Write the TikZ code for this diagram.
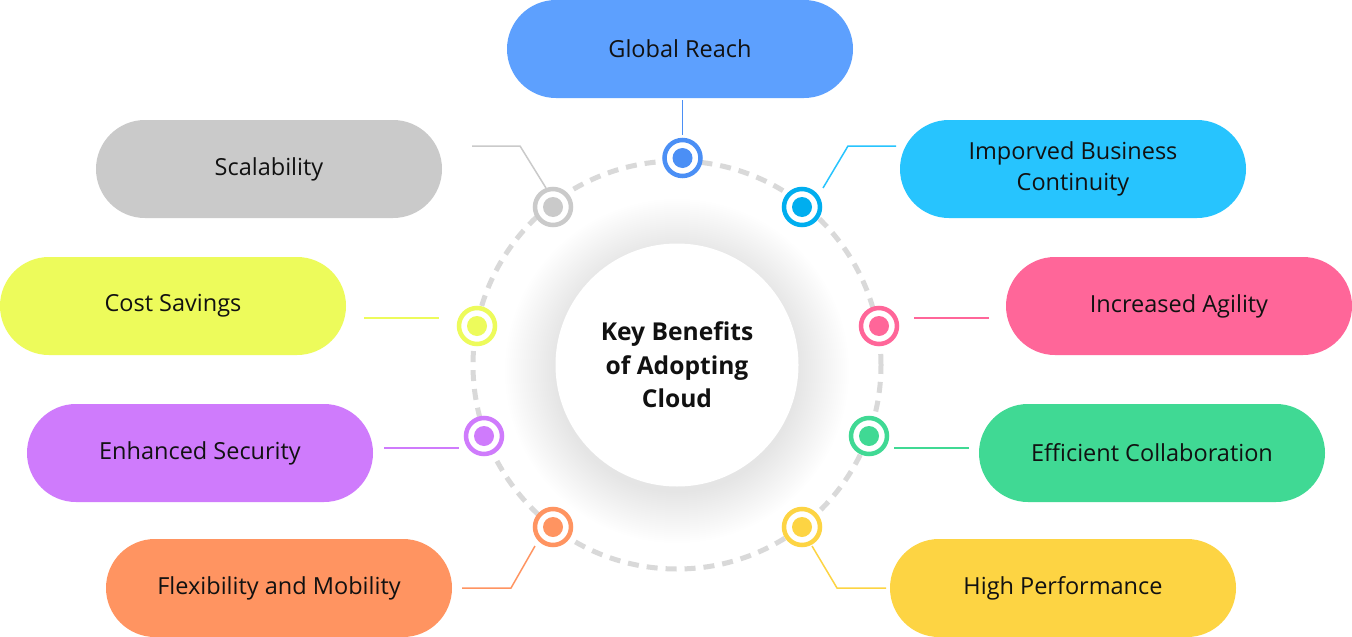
\documentclass[tikz,border=0pt]{standalone}
\usepackage{fontspec}
\setmainfont{Open Sans}
\usetikzlibrary{calc}
\definecolor{cGlobal}{HTML}{5DA0FE}
\definecolor{cGlobalM}{HTML}{4B8FF5}
\definecolor{cCont}{HTML}{27C4FE}
\definecolor{cContM}{HTML}{00AEEF}
\definecolor{cScal}{HTML}{CACACA}
\definecolor{cCost}{HTML}{EDFB5B}
\definecolor{cAgil}{HTML}{FF6699}
\definecolor{cSec}{HTML}{CF7BFC}
\definecolor{cColl}{HTML}{40D994}
\definecolor{cFlex}{HTML}{FF9461}
\definecolor{cHP}{HTML}{FDD443}
\definecolor{dashc}{HTML}{D9D9D9}
\definecolor{txt}{HTML}{111111}
\begin{document}
\begin{tikzpicture}[x=1pt,y=-1pt,
  pill/.style={fill=#1, rounded corners=49pt, minimum width=346pt, minimum height=98pt,
    inner sep=0pt, align=center, font=\fontsize{23.5}{31}\selectfont, text=txt},
  marker/.style={circle, draw=#1, line width=4.5pt, fill=white, minimum size=36pt, inner sep=0pt},
  link/.style={draw=#1, line width=1.5pt},
]
\useasboundingbox (0,0) rectangle (1352,637);
\fill[white] (0,0) rectangle (1352,637);

% soft shadow round the centre disc
\foreach \r in {122,124,...,172}
  \fill[black, opacity=0.0045] (677,371) circle (\r pt);
\node[circle, fill=white, minimum size=243pt, inner sep=0pt, align=center,
  font=\bfseries\fontsize{24.6}{33.5}\selectfont, text=txt] (core) at (677,365)
  {Key Benefits\\of Adopting\\Cloud};
\draw[dashc, line width=5pt, dash pattern=on 11pt off 8pt] (core.center) circle (204pt);

% pills
\node[pill=cGlobal] (pG) at (680,49) {Global Reach};
\node[pill=cScal] (pS) at (269,169) {Scalability};
\node[pill=cCont] (pC) at (1073,169) {Imporved Business\\Continuity};
\node[pill=cCost] (pCo) at (173,306) {Cost Savings};
\node[pill=cAgil] (pA) at (1179,306) {Increased Agility};
\node[pill=cSec] (pSe) at (200,453) {Enhanced Security};
\node[pill=cColl] (pCl) at (1152,453) {Efficient Collaboration};
\node[pill=cFlex] (pF) at (279,588) {Flexibility and Mobility};
\node[pill=cHP] (pH) at (1063,588) {High Performance};

% markers
\node[marker=cGlobalM] (mG) at (682.5,158) {};
\node[marker=cScal] (mS) at (553,207) {};
\node[marker=cContM] (mC) at (802,207) {};
\node[marker=cCost] (mCo) at (477,326) {};
\node[marker=cAgil] (mA) at (879,326) {};
\node[marker=cSec] (mSe) at (484,436) {};
\node[marker=cColl] (mCl) at (869,436) {};
\node[marker=cFlex] (mF) at (553,527) {};
\node[marker=cHP] (mH) at (802,527) {};
\foreach \m/\c in {mG/cGlobalM, mS/cScal, mC/cContM, mCo/cCost, mA/cAgil, mSe/cSec, mCl/cColl, mF/cFlex, mH/cHP}
  \fill[\c] (\m.center) circle (10pt);

% connector coordinates
\coordinate (gA) at (682.5,100); \coordinate (gB) at (682.5,135);
\coordinate (sA) at (472,146); \coordinate (sB) at (520,146); \coordinate (sC) at (546,188);
\coordinate (cA) at (896,146); \coordinate (cB) at (848,146); \coordinate (cC) at (823,188);
\coordinate (coA) at (364,318); \coordinate (coB) at (439,318);
\coordinate (aA) at (989,318); \coordinate (aB) at (914,318);
\coordinate (seA) at (384,448); \coordinate (seB) at (459,448);
\coordinate (clA) at (969,448); \coordinate (clB) at (894,448);
\coordinate (fA) at (462,588); \coordinate (fB) at (511,588); \coordinate (fC) at (535,546);
\coordinate (hA) at (886,588); \coordinate (hB) at (837,588); \coordinate (hC) at (812,546);

\draw[link=cGlobalM] (gA) -- (gB);
\draw[link=cScal] (sA) -- (sB) -- (sC);
\draw[link=cCont] (cA) -- (cB) -- (cC);
\draw[link=cCost] (coA) -- (coB);
\draw[link=cAgil] (aA) -- (aB);
\draw[link=cSec] (seA) -- (seB);
\draw[link=cColl] (clA) -- (clB);
\draw[link=cFlex] (fA) -- (fB) -- (fC);
\draw[link=cHP] (hA) -- (hB) -- (hC);
\end{tikzpicture}
\end{document}
